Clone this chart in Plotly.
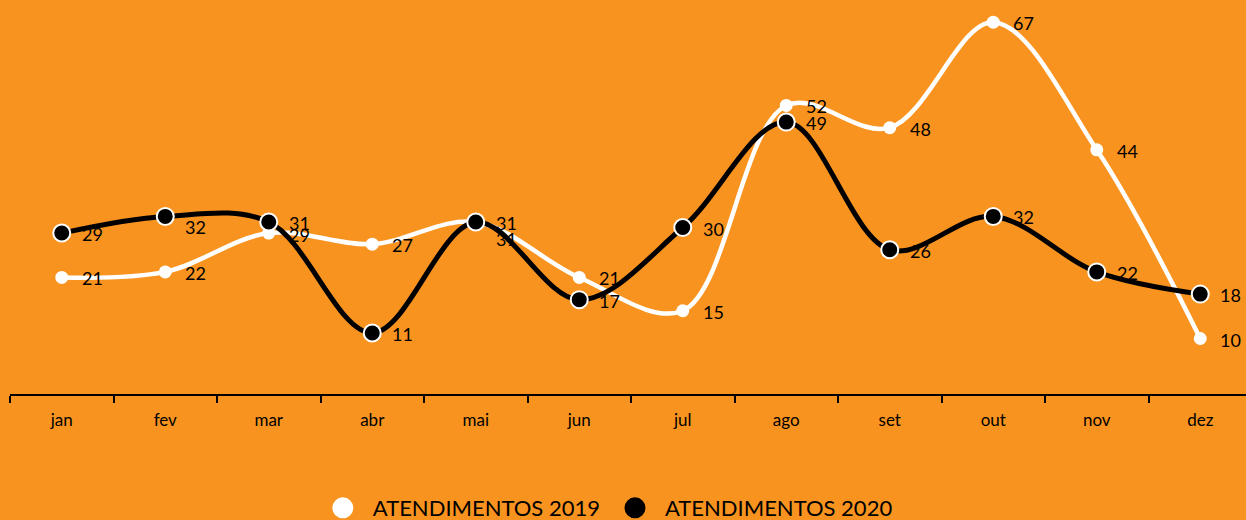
import plotly.graph_objects as go

months = ["jan", "fev", "mar", "abr", "mai", "jun", "jul", "ago", "set", "out", "nov", "dez"]
atend_2019 = [21, 22, 29, 27, 31, 21, 15, 52, 48, 67, 44, 10]
atend_2020 = [29, 32, 31, 11, 31, 17, 30, 49, 26, 32, 22, 18]
series_names = ["ATENDIMENTOS 2019", "ATENDIMENTOS 2020"]

BG = "#F9931F"
FONT = "Lato, 'Open Sans', sans-serif"

# label vertical nudges (style only) to avoid overlaps, keyed by (series, month index)
label_nudge = {(0, 4): -17, (1, 1): -11, (0, 2): -2}

fig = go.Figure()

fig.add_trace(go.Scatter(
    x=months, y=atend_2019, mode="lines+markers", name=series_names[0],
    line=dict(color="white", width=4.5, shape="spline", smoothing=1.0),
    marker=dict(color="white", size=13, line=dict(color="white", width=0)),
    showlegend=False, cliponaxis=False, hoverinfo="x+y",
))
fig.add_trace(go.Scatter(
    x=months, y=atend_2020, mode="lines+markers", name=series_names[1],
    line=dict(color="black", width=5, shape="spline", smoothing=1.0),
    marker=dict(color="black", size=17, line=dict(color="white", width=2)),
    showlegend=False, cliponaxis=False, hoverinfo="x+y",
))

# legend-only traces (bigger symbols)
fig.add_trace(go.Scatter(x=[None], y=[None], mode="markers", name=series_names[0],
                         marker=dict(color="white", size=16, line=dict(color="white", width=5))))
fig.add_trace(go.Scatter(x=[None], y=[None], mode="markers", name=series_names[1],
                         marker=dict(color="black", size=16, line=dict(color="black", width=5))))

annotations = []
for si, vals in enumerate([atend_2019, atend_2020]):
    for i, (m, v) in enumerate(zip(months, vals)):
        annotations.append(dict(
            x=m, y=v, xref="x", yref="y", text=str(v), showarrow=False,
            xanchor="left", yanchor="middle", xshift=18,
            yshift=label_nudge.get((si, i), -1),
            font=dict(family=FONT, size=18, color="black"),
        ))

fig.update_layout(
    width=1246, height=520,
    paper_bgcolor=BG, plot_bgcolor=BG,
    margin=dict(l=10, r=0, t=0, b=126),
    font=dict(family=FONT, color="black"),
    annotations=annotations,
    showlegend=True,
    legend=dict(
        orientation="h", x=0.245, xanchor="left", yref="container", y=0.023, yanchor="middle",
        font=dict(family=FONT, size=22, color="black"), bgcolor="rgba(0,0,0,0)",
        itemsizing="trace", traceorder="normal", itemwidth=50,
    ),
    xaxis=dict(
        type="category", range=[-0.5, 11.442], showline=True, linecolor="black", linewidth=2,
        ticks="outside", tickson="boundaries", ticklen=7, tickwidth=2, tickcolor="black",
        showgrid=False, zeroline=False, tickfont=dict(family=FONT, size=17, color="black"),
        ticklabelstandoff=10, fixedrange=True,
    ),
    yaxis=dict(range=[0, 71], visible=False, showgrid=False, zeroline=False, fixedrange=True),
)

fig.write_html(
    "out.html",
    config={"displayModeBar": False},
    post_script="document.body.style.margin='0';document.body.style.background='%s';" % BG,
)
